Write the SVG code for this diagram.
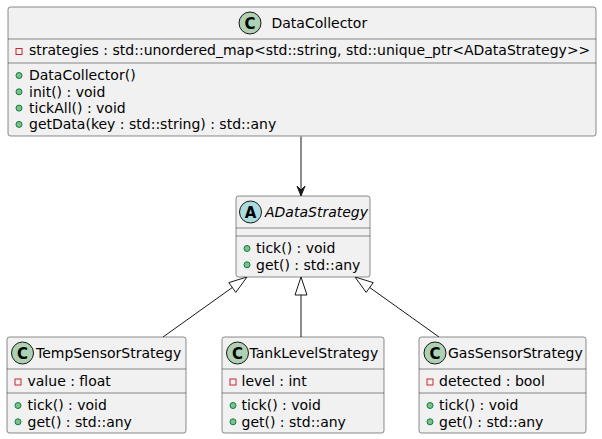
<svg xmlns="http://www.w3.org/2000/svg" width="602" height="439" viewBox="0 0 602 439">
<style>
.box{fill:#F1F1F1;stroke:#181818;stroke-width:0.5}
.sep{stroke:#181818;stroke-width:0.5}
.t{font-family:"DejaVu Sans",sans-serif;font-size:14px;fill:#000000}
.ti{font-family:"DejaVu Sans",sans-serif;font-size:14px;font-style:italic;fill:#000000}
.ci{stroke:#181818;stroke-width:1}
.cl{font-family:"DejaVu Sans",sans-serif;font-size:15px;font-weight:bold;fill:#000000;text-anchor:middle}
.priv{fill:none;stroke:#C82930;stroke-width:1}
.pub{fill:#84BE84;stroke:#038048;stroke-width:1}
.edge{fill:none;stroke:#181818;stroke-width:1}
</style>
<rect width="602" height="439" fill="#FFFFFF"/>
<g id="connectors">
  <line class="edge" x1="301" y1="136.5" x2="301" y2="190"/>
  <polygon points="301,196 297,186 301,190 305,186" fill="#181818" stroke="#181818" stroke-width="1"/>
  <line class="edge" x1="163" y1="337" x2="232.3" y2="287.5"/>
  <polygon points="247,277 235.8,292.4 228.8,282.6" fill="none" stroke="#181818" stroke-width="1"/>
  <line class="edge" x1="301" y1="337" x2="301" y2="295"/>
  <polygon points="301,277 307,295 295,295" fill="none" stroke="#181818" stroke-width="1"/>
  <line class="edge" x1="439" y1="337" x2="369.7" y2="287.5"/>
  <polygon points="355,277 366.2,292.4 373.2,282.6" fill="none" stroke="#181818" stroke-width="1"/>
</g>
<g id="DataCollector">
  <rect class="box" x="8" y="7" width="588" height="129" rx="2.5"/>
  <circle class="ci" cx="250" cy="23" r="11" fill="#ADD1B2"/>
  <text class="cl" x="250" y="28.5">C</text>
  <text class="t" x="271.5" y="28">DataCollector</text>
  <line class="sep" x1="8" y1="39" x2="596" y2="39"/>
  <rect class="priv" x="16" y="48.5" width="6" height="6"/>
  <text class="t" x="29" y="55">strategies : std::unordered_map&lt;std::string, std::unique_ptr&lt;ADataStrategy&gt;&gt;</text>
  <line class="sep" x1="8" y1="63" x2="596" y2="63"/>
  <circle class="pub" cx="19" cy="75.5" r="3"/>
  <text class="t" x="29" y="80.3">DataCollector()</text>
  <circle class="pub" cx="19" cy="91.8" r="3"/>
  <text class="t" x="29" y="96.6">init() : void</text>
  <circle class="pub" cx="19" cy="108.1" r="3"/>
  <text class="t" x="29" y="112.9">tickAll() : void</text>
  <circle class="pub" cx="19" cy="124.4" r="3"/>
  <text class="t" x="29" y="129.2">getData(key : std::string) : std::any</text>
</g>
<g id="ADataStrategy">
  <rect class="box" x="236" y="196" width="134" height="81" rx="2.5"/>
  <circle class="ci" cx="250.5" cy="212" r="11" fill="#A9DCDF"/>
  <text class="cl" x="250.5" y="217.5">A</text>
  <text class="ti" x="265" y="217">ADataStrategy</text>
  <line class="sep" x1="236" y1="228" x2="370" y2="228"/>
  <line class="sep" x1="236" y1="236" x2="370" y2="236"/>
  <circle class="pub" cx="247" cy="248.5" r="3"/>
  <text class="t" x="256" y="253.3">tick() : void</text>
  <circle class="pub" cx="247" cy="264.8" r="3"/>
  <text class="t" x="256" y="269.6">get() : std::any</text>
</g>
<g id="TempSensorStrategy">
  <rect class="box" x="7" y="337" width="179" height="96" rx="2.5"/>
  <circle class="ci" cx="22.5" cy="353" r="11" fill="#ADD1B2"/>
  <text class="cl" x="22.5" y="358.5">C</text>
  <text class="t" x="36" y="358">TempSensorStrategy</text>
  <line class="sep" x1="7" y1="369" x2="186" y2="369"/>
  <rect class="priv" x="15" y="379" width="6" height="6"/>
  <text class="t" x="27.5" y="386">value : float</text>
  <line class="sep" x1="7" y1="393" x2="186" y2="393"/>
  <circle class="pub" cx="18" cy="405.5" r="3"/>
  <text class="t" x="27.5" y="410.3">tick() : void</text>
  <circle class="pub" cx="18" cy="421.8" r="3"/>
  <text class="t" x="27.5" y="426.6">get() : std::any</text>
</g>
<g id="TankLevelStrategy">
  <rect class="box" x="222" y="337" width="162" height="96" rx="2.5"/>
  <circle class="ci" cx="237.5" cy="353" r="11" fill="#ADD1B2"/>
  <text class="cl" x="237.5" y="358.5">C</text>
  <text class="t" x="249.5" y="358">TankLevelStrategy</text>
  <line class="sep" x1="222" y1="369" x2="384" y2="369"/>
  <rect class="priv" x="230" y="379" width="6" height="6"/>
  <text class="t" x="241.5" y="386">level : int</text>
  <line class="sep" x1="222" y1="393" x2="384" y2="393"/>
  <circle class="pub" cx="233" cy="405.5" r="3"/>
  <text class="t" x="241.5" y="410.3">tick() : void</text>
  <circle class="pub" cx="233" cy="421.8" r="3"/>
  <text class="t" x="241.5" y="426.6">get() : std::any</text>
</g>
<g id="GasSensorStrategy">
  <rect class="box" x="419" y="337" width="167" height="96" rx="2.5"/>
  <circle class="ci" cx="435" cy="353" r="11" fill="#ADD1B2"/>
  <text class="cl" x="435" y="358.5">C</text>
  <text class="t" x="448" y="358">GasSensorStrategy</text>
  <line class="sep" x1="419" y1="369" x2="586" y2="369"/>
  <rect class="priv" x="427" y="379" width="6" height="6"/>
  <text class="t" x="439" y="386">detected : bool</text>
  <line class="sep" x1="419" y1="393" x2="586" y2="393"/>
  <circle class="pub" cx="430" cy="405.5" r="3"/>
  <text class="t" x="439" y="410.3">tick() : void</text>
  <circle class="pub" cx="430" cy="421.8" r="3"/>
  <text class="t" x="439" y="426.6">get() : std::any</text>
</g>
</svg>
